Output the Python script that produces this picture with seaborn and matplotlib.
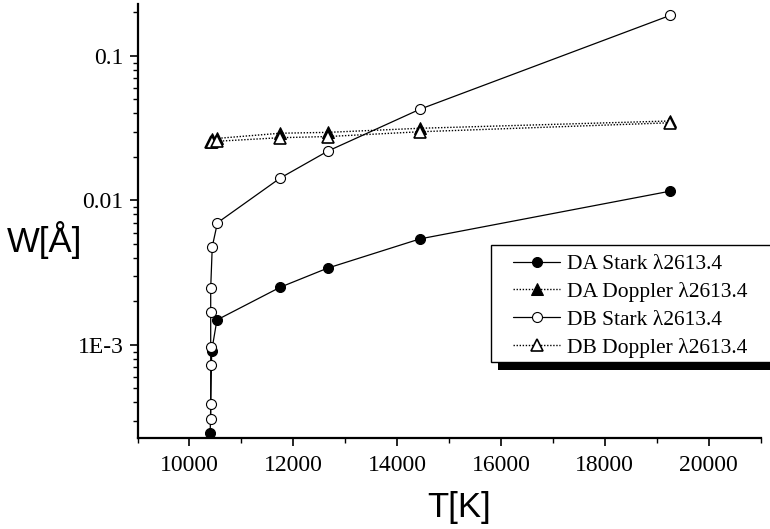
import numpy as np
import pandas as pd
import matplotlib
matplotlib.use("Agg")
import matplotlib.pyplot as plt
import seaborn as sns
from matplotlib.ticker import FixedLocator, FuncFormatter, LogLocator, MultipleLocator, NullFormatter
from matplotlib.patches import Rectangle

# ---- data ----
T_da = [10400, 10430, 10530, 11750, 12660, 14440, 19260]
da_stark = [0.000245, 0.000913, 0.00149, 0.00251, 0.00340, 0.00542, 0.0116]
T_da_dop = [10440, 10540, 11750, 12660, 14440, 19260]
da_doppler = [0.0265, 0.0269, 0.0292, 0.0296, 0.0316, 0.0355]

T_db = [10410, 10410, 10410, 10410, 10410, 10410, 10440, 10540, 11750, 12670, 14440, 19260]
db_stark = [0.000309, 0.000391, 0.000723, 0.000964, 0.00170, 0.00248, 0.00479,
            0.00701, 0.0143, 0.0220, 0.0428, 0.191]
T_db_dop = [10410, 10440, 10540, 11750, 12670, 14440, 19260]
db_doppler = [0.0253, 0.0254, 0.0257, 0.0272, 0.0277, 0.0299, 0.0345]

labels = ["DA Stark \u03bb2613.4", "DA Doppler \u03bb2613.4",
          "DB Stark \u03bb2613.4", "DB Doppler \u03bb2613.4"]
x_ticks = [10000, 12000, 14000, 16000, 18000, 20000]
y_ticks = [1e-3, 1e-2, 1e-1]
y_tick_labels = ["1E-3", "0.01", "0.1"]

sns.set_theme(style="white")
plt.rcParams['font.family'] = ['Liberation Serif', 'DejaVu Serif']
plt.rcParams['text.color'] = 'black'
plt.rcParams['axes.labelcolor'] = 'black'
plt.rcParams['xtick.color'] = 'black'
plt.rcParams['ytick.color'] = 'black'

W, H = 770, 529
fig = plt.figure(figsize=(W / 100, H / 100), dpi=100)
ax = fig.add_axes([137.5 / W, (H - 438) / H, 623 / W, 434 / H])

common = dict(estimator=None, sort=False, ax=ax, color="black", legend=False)

sns.lineplot(x=T_da, y=da_stark, marker="o", markersize=7.2, markerfacecolor="black",
             markeredgecolor="black", linewidth=0.9, linestyle="-", label=labels[0], **common)
sns.lineplot(x=T_da_dop, y=da_doppler, marker="^", markersize=8, markerfacecolor="black",
             markeredgecolor="black", linewidth=1.0, linestyle=(0, (1, 1.2)), label=labels[1], **common)
sns.lineplot(x=T_db, y=db_stark, marker="o", markersize=7.2, markerfacecolor="white",
             markeredgecolor="black", markeredgewidth=0.8, linewidth=0.9, linestyle="-",
             label=labels[2], **common)
sns.lineplot(x=T_db_dop, y=db_doppler, marker="^", markersize=8, markerfacecolor="white",
             markeredgecolor="black", markeredgewidth=1.2, linewidth=1.0, linestyle=(0, (1, 1.2)),
             label=labels[3], **common)

ax.set_yscale("log")
ax.set_xlim(9000, 21000)
ax.set_ylim(2.27e-4, 0.229)

ax.xaxis.set_major_locator(FixedLocator(x_ticks))
ax.xaxis.set_minor_locator(MultipleLocator(1000))
ax.yaxis.set_major_locator(FixedLocator(y_ticks))
ax.yaxis.set_major_formatter(FuncFormatter(lambda v, p: dict(zip(y_ticks, y_tick_labels)).get(v, "")))
ax.yaxis.set_minor_locator(LogLocator(base=10, subs=np.arange(2, 10)))
ax.yaxis.set_minor_formatter(NullFormatter())

for side in ["top", "right"]:
    ax.spines[side].set_visible(False)
for side in ["left", "bottom"]:
    ax.spines[side].set_linewidth(1.6)
    ax.spines[side].set_color("black")

ax.tick_params(which="major", direction="out", length=6, width=1.2, colors="black",
               labelsize=17, pad=4, left=True, bottom=True)
ax.tick_params(axis="x", which="major", pad=6)
ax.tick_params(which="minor", direction="out", length=3.5, width=1.0, colors="black",
               left=True, bottom=True)

ax.set_xlabel("T[K]", fontsize=25, family=["Liberation Sans", "DejaVu Sans"],
              ha="center", va="center", color="black")
ax.set_ylabel("W[\u00c5]", fontsize=25, family=["Liberation Sans", "DejaVu Sans"],
              rotation=0, ha="center", va="center", color="black")
ax.xaxis.set_label_coords((459 - 137.5) / 623, (438 - 508) / 434)
ax.yaxis.set_label_coords((45 - 137.5) / 623, (438 - 240) / 434)

# legend (frameless; frame and shadow drawn as patches)
def ax_frac(px, py):
    return ((px - 137.5) / 623, (438 - py) / 434)

handles, labs = ax.get_legend_handles_labels()
leg = ax.legend(handles, labs, loc="upper left", bbox_to_anchor=ax_frac(513, 254),
                frameon=False, fontsize=15.5, handlelength=2.2, handletextpad=0.3,
                labelspacing=0.36, borderpad=0.0, borderaxespad=0.0, labelcolor="black")
leg.set_zorder(6)

sx0, sy0 = ax_frac(498, 370)
fx0, fy0 = ax_frac(491, 362)
_, fy1 = ax_frac(491, 245)
wide = (820 - 491) / 623
ax.add_patch(Rectangle((sx0, sy0), wide, fy1 - fy0, transform=ax.transAxes,
                       facecolor="black", edgecolor="none", clip_on=False, zorder=5.4))
ax.add_patch(Rectangle((fx0, fy0), wide, fy1 - fy0, transform=ax.transAxes,
                       facecolor="white", edgecolor="black", linewidth=1.0,
                       clip_on=False, zorder=5.5))

fig.savefig("out.png", dpi=100)
